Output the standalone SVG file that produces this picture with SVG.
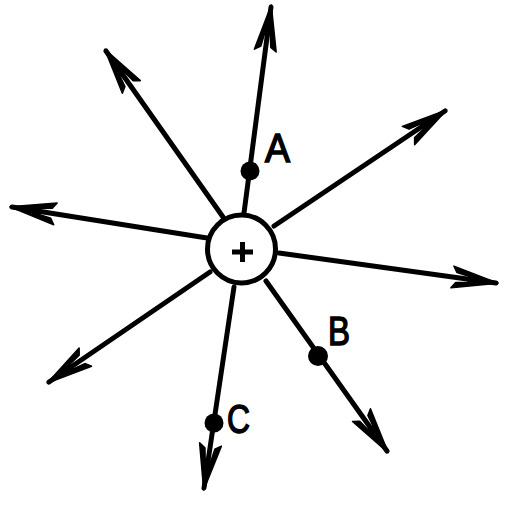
<svg xmlns="http://www.w3.org/2000/svg" width="516" height="527" viewBox="0 0 516 527">
<style>
.ln{stroke:#000;stroke-width:5;fill:none;stroke-linecap:round;marker-end:url(#ah)}
.lbl{font-family:"Liberation Sans",Arial,sans-serif;font-size:40px;fill:#000;stroke:#000;stroke-width:1.5}
</style>
<defs>
<marker id="ah" markerUnits="userSpaceOnUse" markerWidth="60" markerHeight="30" viewBox="-50 -15 55 30" refX="0" refY="0" orient="auto">
<path d="M2,0 L-44,-11 L-40,-5 L-28,-3 L-28,3 L-40,5 L-44,11 Z" fill="#000" stroke="#000" stroke-width="1.5" stroke-linejoin="round"/>
</marker>
</defs>
<rect width="516" height="527" fill="#fff"/>
<g id="connectors">
<line class="ln" x1="244" y1="213" x2="271" y2="7"/>
<line class="ln" x1="223" y1="217" x2="106" y2="51"/>
<line class="ln" x1="274" y1="226" x2="445" y2="111"/>
<line class="ln" x1="207" y1="238" x2="12" y2="207"/>
<line class="ln" x1="279" y1="253" x2="496" y2="283"/>
<line class="ln" x1="210" y1="272" x2="49" y2="382"/>
<line class="ln" x1="234" y1="287" x2="204" y2="488"/>
<line class="ln" x1="266" y1="281" x2="387" y2="451"/>
</g>
<g id="charge">
<circle cx="241.5" cy="249" r="34" fill="#fff" stroke="#000" stroke-width="5"/>
<path d="M232,252 H253 M242.5,242 V262" stroke="#000" stroke-width="5"/>
</g>
<g id="pointA">
<circle cx="250" cy="171" r="9.5" fill="#000"/>
<text class="lbl" x="265" y="162" textLength="25" lengthAdjust="spacingAndGlyphs">A</text>
</g>
<g id="pointB">
<circle cx="318" cy="356" r="10" fill="#000"/>
<text class="lbl" x="328" y="345" textLength="22" lengthAdjust="spacingAndGlyphs">B</text>
</g>
<g id="pointC">
<circle cx="214" cy="423" r="9.5" fill="#000"/>
<text class="lbl" x="227" y="433" textLength="23" lengthAdjust="spacingAndGlyphs">C</text>
</g>
</svg>
